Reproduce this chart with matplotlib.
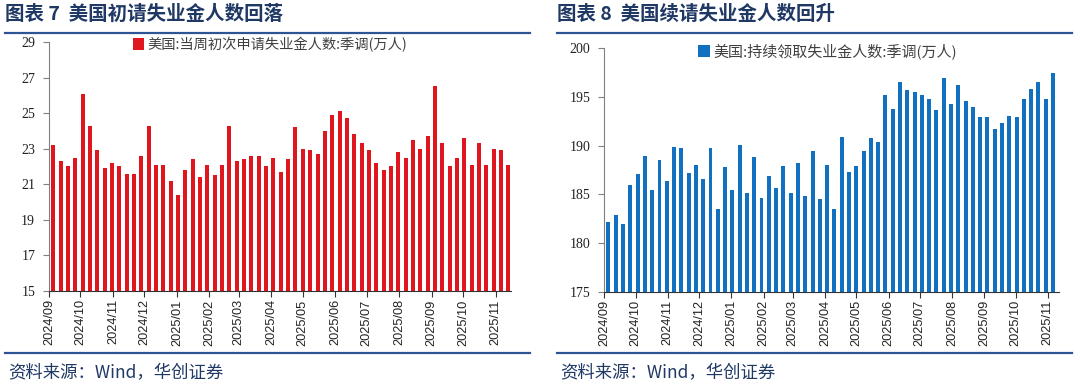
import matplotlib
matplotlib.use("Agg")
import matplotlib.pyplot as plt
import matplotlib.dates as mdates
from matplotlib.lines import Line2D
import pandas as pd

plt.rcParams['font.family'] = ['Noto Sans CJK SC', 'DejaVu Sans']

# weekly data (万人), first week 2024-09-05
initial_claims = [23.2, 22.3, 22.0, 22.5, 26.1, 24.3, 22.9, 21.9, 22.2, 22.0,
                  21.6, 21.6, 22.6, 24.3, 22.1, 22.1, 21.2, 20.4, 21.8, 22.4,
                  21.4, 22.1, 21.5, 22.1, 24.3, 22.3, 22.4, 22.6, 22.6, 22.0,
                  22.5, 21.7, 22.4, 24.2, 23.0, 22.9, 22.7, 24.0, 24.9, 25.1,
                  24.7, 23.8, 23.3, 22.9, 22.2, 21.8, 22.0, 22.8, 22.5, 23.5,
                  23.0, 23.7, 26.5, 23.3, 22.0, 22.5, 23.6, 22.1, 23.3, 22.1,
                  23.0, 22.9, 22.1]
continuing_claims = [182.2, 182.9, 182.0, 186.0, 187.1, 188.9, 185.4, 188.5, 186.4, 189.9,
                     189.8, 187.2, 188.0, 186.6, 189.8, 183.5, 187.8, 185.4, 190.1, 185.1,
                     188.8, 184.6, 186.9, 185.6, 187.9, 185.1, 188.2, 184.8, 189.5, 184.5,
                     188.0, 183.5, 190.9, 187.3, 187.9, 189.5, 190.8, 190.4, 195.2, 193.8,
                     196.5, 195.7, 195.5, 195.2, 194.8, 193.7, 197.0, 194.3, 196.2, 194.6,
                     194.0, 192.9, 192.9, 191.7, 192.3, 193.0, 192.9, 194.8, 195.8, 196.5,
                     194.8, 197.5]
weeks_initial = pd.date_range('2024-09-05', periods=len(initial_claims), freq='7D')
weeks_cont = pd.date_range('2024-09-05', periods=len(continuing_claims), freq='7D')
month_ticks = pd.date_range('2024-09-01', '2025-11-01', freq='MS')

title_left = '图表 7  美国初请失业金人数回落'
title_right = '图表 8  美国续请失业金人数回升'
label_left = '美国:当周初次申请失业金人数:季调(万人)'
label_right = '美国:持续领取失业金人数:季调(万人)'
source = '资料来源：Wind，华创证券'

navy = '#1F3864'
rule = '#2F5496'
red = '#E0161E'
blue = '#1170C0'

fig = plt.figure(figsize=(10.8, 3.86), dpi=100)


def draw(ax, dates, vals, color, label, ylim, yticks, xend, legx, legsize):
    ax.bar(dates, vals, width=3.8, color=color, label=label, zorder=2)
    ax.set_ylim(*ylim)
    ax.set_yticks(yticks)
    ax.set_xlim(pd.Timestamp('2024-09-01'), pd.Timestamp(xend))
    ax.set_xticks(month_ticks)
    ax.xaxis.set_major_formatter(mdates.DateFormatter('%Y/%m'))
    for s in ['top', 'right']:
        ax.spines[s].set_visible(False)
    ax.spines['left'].set_color('#808080')
    ax.spines['bottom'].set_color('#333333')
    ax.tick_params(axis='y', length=4, color='#808080', labelsize=10, pad=6)
    ax.tick_params(axis='x', length=4, color='#333333', labelsize=9.2, rotation=90, pad=2)
    for t in ax.get_yticklabels():
        t.set_family('Liberation Serif')
        t.set_color('#222222')
    for t in ax.get_xticklabels():
        t.set_family('Liberation Sans')
        t.set_color('#222222')
    leg = ax.legend(loc='upper center', bbox_to_anchor=(legx, 1.045), frameon=False,
                    handlelength=0.8, handleheight=0.9, handletextpad=0.2,
                    fontsize=legsize, borderaxespad=0)
    for t in leg.get_texts():
        t.set_color('#404040')


ax1 = fig.add_axes([49 / 1080, 1 - 291 / 386, 461.5 / 1080, 249 / 386])
draw(ax1, weeks_initial, initial_claims, red, label_left, (15, 29),
     range(15, 30, 2), '2025-11-15', 0.479, 10.3)

ax2 = fig.add_axes([604.3 / 1080, 1 - 291.7 / 386, 455 / 1080, 243.4 / 386])
draw(ax2, weeks_cont, continuing_claims, blue, label_right, (175, 200),
     range(175, 201, 5), '2025-11-12', 0.49, 10.8)

# titles, rules and source lines
for x0, x1, title in [(5, 530, title_left), (557, 1072, title_right)]:
    fig.text(x0 / 1080, 1 - 14 / 386, title, fontsize=14, fontweight='bold',
             color=navy, va='center', ha='left')
    for y in (33, 353):
        fig.add_artist(Line2D([x0 / 1080, x1 / 1080], [1 - y / 386, 1 - y / 386],
                              color=rule, lw=1.6))
    fig.text((x0 + 3) / 1080, 1 - 373 / 386, source, fontsize=12.5, color=navy,
             va='center', ha='left', style='italic')

fig.savefig('out.png', dpi=100)
